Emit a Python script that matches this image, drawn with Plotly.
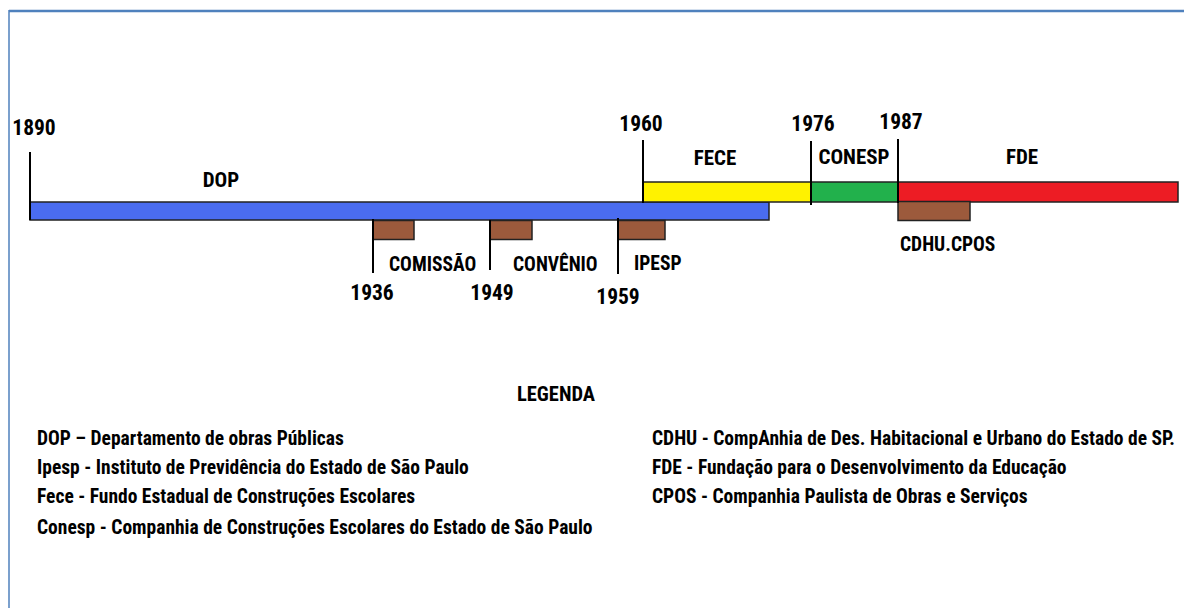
import numpy as np
import plotly.graph_objects as go

# ---------------- data ----------------
era_names = ["DOP", "FECE", "CONESP", "FDE"]
era_start = [1890, 1960, 1976, 1987]
era_end = [1972, 1976, 1987, 2015]
era_colors = ["#4A6CF0", "#FFF200", "#22B14C", "#ED1C24"]

event_names = ["COMISSÃO", "CONVÊNIO", "IPESP", "CDHU.CPOS"]
event_years = [1936, 1949, 1959, 1987]

top_years = [1890, 1960, 1976, 1987]

legend_left = [
    "DOP – Departamento de obras Públicas",
    "Ipesp - Instituto de Previdência do Estado de São Paulo",
    "Fece - Fundo Estadual de Construções Escolares",
    "Conesp - Companhia de Construções Escolares do Estado de São Paulo",
]
legend_right = [
    "CDHU - CompAnhia de Des. Habitacional e Urbano do Estado de SP.",
    "FDE - Fundação para o Desenvolvimento da Educação",
    "CPOS - Companhia Paulista de Obras e Serviços",
]

# ---------------- schematic (non-linear) timeline scale ----------------
SCALE_YEARS = [1890, 1936, 1949, 1959, 1960, 1976, 1987, 2015]
SCALE_X = [30, 373, 490, 618, 643, 811, 898, 1178]


def X(y):
    return float(np.interp(y, SCALE_YEARS, SCALE_X))


FONT = "Roboto Condensed, Liberation Sans Narrow, Arial Narrow, Roboto, sans-serif"
BROWN = "#9C5A3C"
OUTLINE = "#222222"

fig = go.Figure()

# era bars: (y center, thickness) per era row
era_rows = {"DOP": (211, 18), "FECE": (192, 20), "CONESP": (192, 20), "FDE": (192, 20)}
for n, s, e, c in zip(era_names, era_start, era_end, era_colors):
    yc, th = era_rows[n]
    fig.add_trace(go.Bar(orientation="h", base=[X(s)], x=[X(e) - X(s)], y=[yc], width=[th],
                         marker=dict(color=c, line=dict(color=OUTLINE, width=1.5)),
                         showlegend=False, hoverinfo="skip"))

# event boxes (brown)
box_w = {"COMISSÃO": 41, "CONVÊNIO": 42, "IPESP": 47, "CDHU.CPOS": 72}
box_row = {"COMISSÃO": 230, "CONVÊNIO": 230, "IPESP": 230, "CDHU.CPOS": 211}
for n, yr in zip(event_names, event_years):
    fig.add_trace(go.Bar(orientation="h", base=[X(yr)], x=[box_w[n]], y=[box_row[n]], width=[19],
                         marker=dict(color=BROWN, line=dict(color=OUTLINE, width=1.5)),
                         showlegend=False, hoverinfo="skip"))

# vertical tick lines at top years
top_line = {1890: (152, 220), 1960: (140, 203), 1976: (141, 205), 1987: (139, 203)}
for yr in top_years:
    y0, y1 = top_line[yr]
    fig.add_trace(go.Scatter(x=[X(yr), X(yr)], y=[y0, y1], mode="lines",
                             line=dict(color="#000000", width=2), showlegend=False, hoverinfo="skip"))

# vertical tick lines at event years (below bar)
ev_line = {1936: (219, 273), 1949: (220, 270), 1959: (218, 274)}
for yr in event_years[:3]:
    y0, y1 = ev_line[yr]
    fig.add_trace(go.Scatter(x=[X(yr), X(yr)], y=[y0, y1], mode="lines",
                             line=dict(color="#000000", width=2), showlegend=False, hoverinfo="skip"))

# top year labels
top_lbl_dx = {1890: 4, 1960: -2, 1976: 2, 1987: 3}
top_lbl_y = {1890: 130, 1960: 126, 1976: 126, 1987: 124}
fig.add_trace(go.Scatter(x=[X(y) + top_lbl_dx[y] for y in top_years], y=[top_lbl_y[y] for y in top_years],
                         mode="text", text=[str(y) for y in top_years],
                         textfont=dict(family=FONT, size=21.5, color="#000000", weight="bold"),
                         textposition="middle center", showlegend=False, hoverinfo="skip"))

# event year labels (below)
ev_lbl_dx = {1936: -1, 1949: 2, 1959: 0}
ev_lbl_y = {1936: 295, 1949: 295, 1959: 299}
fig.add_trace(go.Scatter(x=[X(y) + ev_lbl_dx[y] for y in event_years[:3]], y=[ev_lbl_y[y] for y in event_years[:3]],
                         mode="text", text=[str(y) for y in event_years[:3]],
                         textfont=dict(family=FONT, size=21.5, color="#000000", weight="bold"),
                         textposition="middle center", showlegend=False, hoverinfo="skip"))

# era labels
era_lbl_x = {"DOP": 221, "FECE": 715, "CONESP": 854, "FDE": 1022}
era_lbl_y = {"DOP": 182, "FECE": 160, "CONESP": 159, "FDE": 159}
fig.add_trace(go.Scatter(x=[era_lbl_x[n] for n in era_names], y=[era_lbl_y[n] for n in era_names],
                         mode="text", text=era_names,
                         textfont=dict(family=FONT, size=21, color="#000000", weight="bold"),
                         textposition="middle center", showlegend=False, hoverinfo="skip"))

# event name labels (left-aligned to the right of the year tick)
ev_name_dx = {"COMISSÃO": 14, "CONVÊNIO": 21, "IPESP": 14, "CDHU.CPOS": 0}
ev_name_y = {"COMISSÃO": 264, "CONVÊNIO": 264, "IPESP": 263, "CDHU.CPOS": 244}
for n, yr in zip(event_names, event_years):
    fig.add_annotation(x=X(yr) + ev_name_dx[n], y=ev_name_y[n], text=n, showarrow=False,
                       xanchor="left", yanchor="middle",
                       font=dict(family=FONT, size=19.5, color="#000000", weight="bold"))

# LEGENDA title
fig.add_annotation(x=556, y=394, text="LEGENDA", showarrow=False, xanchor="center", yanchor="middle",
                   font=dict(family=FONT, size=20.5, color="#000000", weight="bold"))

leg_y_left = [438, 467, 496, 527]
for t, yy in zip(legend_left, leg_y_left):
    fig.add_annotation(x=35, y=yy, text=t, showarrow=False, xanchor="left", yanchor="middle",
                       font=dict(family=FONT, size=19.5, color="#000000", weight="bold"))
leg_y_right = [438, 467, 496]
for t, yy in zip(legend_right, leg_y_right):
    fig.add_annotation(x=650, y=yy, text=t, showarrow=False, xanchor="left", yanchor="middle",
                       font=dict(family=FONT, size=19.5, color="#000000", weight="bold"))

# frame border
fig.add_shape(type="line", x0=9, x1=1184, y0=11, y1=11, line=dict(color="#4F81BD", width=2.5))
fig.add_shape(type="line", x0=9, x1=9, y0=10, y1=608, line=dict(color="#4F81BD", width=1.5))

fig.update_layout(
    width=1184, height=608,
    margin=dict(l=0, r=0, t=0, b=0),
    paper_bgcolor="white", plot_bgcolor="white",
    barmode="overlay",
    xaxis=dict(range=[0, 1184], visible=False, fixedrange=True),
    yaxis=dict(range=[608, 0], visible=False, fixedrange=True),
    showlegend=False,
)

# remove the browser's default body margin so the figure fills the window exactly
fig.write_html("out.html",
               config={"displayModeBar": False, "staticPlot": True},
               post_script="document.body.style.margin='0';document.body.style.overflow='hidden';")
